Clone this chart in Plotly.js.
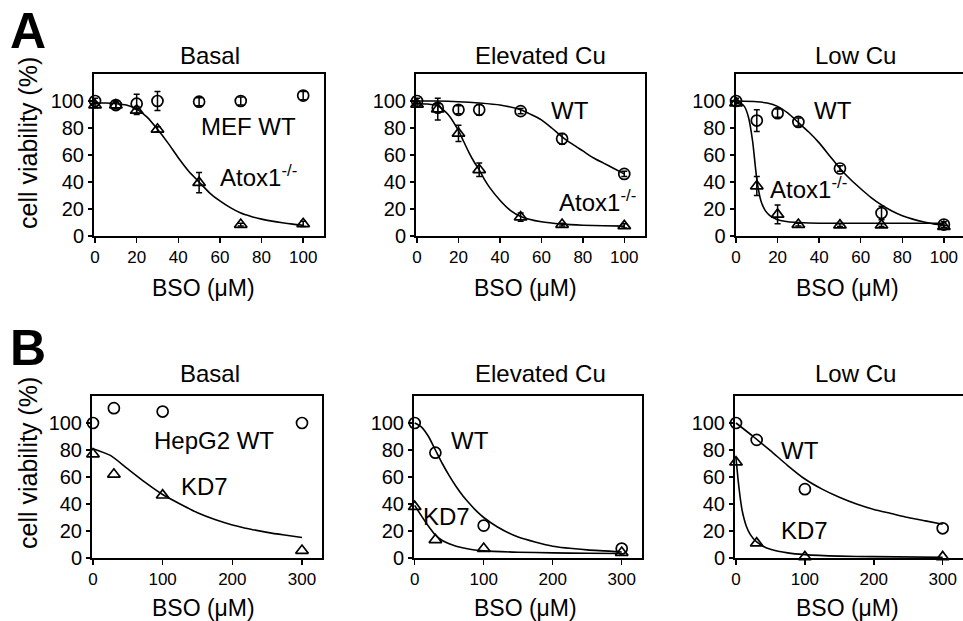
<!DOCTYPE html>
<html>
<head>
<meta charset="utf-8">
<script src="https://cdn.plot.ly/plotly-3.0.1.min.js"></script>
<style>html,body{margin:0;padding:0;background:#fff;}#chart{width:963px;height:621px;}</style>
</head>
<body>
<div id="chart"></div>
<script>
// ---------- DATA ----------
const doseA = [0, 10, 20, 30, 50, 70, 100];
const doseB = [0, 30, 100, 300];
const ticksA = [0, 20, 40, 60, 80, 100];
const ticksB = [0, 100, 200, 300];
const ticksY = [0, 20, 40, 60, 80, 100];

// Panel A – Basal
const a1WT = [100, 97, 98, 100, 99.5, 100, 104];
const a1WTerr = [2, 3, 7, 7, 3, 3, 3];
const a1KO = [97, 97, 93, 79, 39.5, 8.5, 9];
const a1KOerr = [2, 2, 3, 2, 7.5, 1, 2];
const a1KOfitX = [0, 5, 10, 15, 20, 25, 30, 35, 40, 45, 50, 55, 60, 65, 70, 75, 80, 85, 90, 95, 100];
const a1KOfitY = [98.5, 98.5, 98, 97, 94, 88, 79, 69, 58, 48, 40, 32, 26, 21, 17, 14.5, 12.5, 11, 9.8, 8.8, 8];

// Panel A – Elevated Cu
const a2WT = [100, 95, 93.5, 93.5, 92.5, 72, 46];
const a2WTerr = [2, 3, 3, 4, 2, 4, 2];
const a2KO = [97.5, 94, 76, 49, 14, 8.5, 7.5];
const a2KOerr = [2, 8, 6, 5, 3, 1, 1.5];
const a2WTfitX = [0, 10, 20, 30, 40, 50, 55, 60, 65, 70, 75, 80, 85, 90, 95, 100];
const a2WTfitY = [100, 100, 99.5, 98.5, 97, 93.5, 90, 86, 80, 73.5, 68, 63, 58, 54, 50, 46];
const a2KOfitX = [0, 5, 10, 15, 20, 22.5, 25, 27.5, 30, 32.5, 35, 40, 45, 50, 60, 70, 80, 90, 100];
const a2KOfitY = [98, 97.8, 96.5, 90, 78, 70, 62, 55, 49, 42, 36, 26.5, 19, 14.5, 10.5, 8.8, 8, 7.6, 7.3];

// Panel A – Low Cu
const a3WT = [100, 85.5, 91, 84.5, 50, 17, 8.5];
const a3WTerr = [2, 8, 3, 3, 2, 5, 2];
const a3KO = [98.5, 37, 16, 8.5, 8, 8, 7];
const a3KOerr = [2, 7, 7, 1, 1, 1, 1];
const a3WTfitX = [0, 10, 15, 20, 25, 30, 35, 40, 45, 50, 55, 60, 65, 70, 75, 80, 85, 90, 95, 100];
const a3WTfitY = [100, 99.5, 98.5, 96, 91, 84, 77, 69, 59.5, 50, 42, 35, 28.5, 23, 18.5, 15, 12.5, 10.5, 9, 8.5];
const a3KOfitX = [0, 2, 4, 6, 8, 10, 12, 14, 16, 18, 20, 25, 30, 40, 50, 70, 100];
const a3KOfitY = [99, 98.5, 96, 88, 70, 42, 26, 19, 15.5, 13.5, 12, 10.5, 10, 9.5, 9.5, 9.5, 9.5];

// Panel B – Basal
const b1WT = [100, 111, 108.5, 100];
const b1KO = [77, 62, 46.5, 5.5];
const b1KOfitX = [0, 25, 50, 75, 100, 125, 150, 175, 200, 225, 250, 275, 300];
const b1KOfitY = [81, 76, 66, 56, 47, 40, 33.5, 28.5, 24.5, 21.5, 19, 17, 15.2];

// Panel B – Elevated Cu
const b2WT = [100, 78, 24, 7];
const b2KO = [38, 13.5, 7, 4];
const b2WTfitX = [0, 10, 20, 30, 40, 50, 60, 70, 80, 90, 100, 120, 150, 200, 250, 300];
const b2WTfitY = [100, 97, 90, 80, 70, 61, 53, 46, 40, 34.5, 30, 23, 15.5, 8.7, 6, 4.5];
const b2KOfitX = [0, 10, 20, 30, 40, 50, 60, 80, 100, 150, 200, 250, 300];
const b2KOfitY = [39, 31, 23.5, 17, 13, 10.5, 8.7, 6.5, 5.3, 4.3, 3.8, 3.5, 3.3];

// Panel B – Low Cu
const b3WT = [100, 87.5, 51, 22];
const b3KO = [71, 11, 0.8, 0.8];
const b3WTfitX = [0, 25, 50, 75, 100, 125, 150, 175, 200, 225, 250, 275, 300];
const b3WTfitY = [100, 90, 79.5, 68.5, 58.5, 51, 45, 40, 36, 33, 30, 27.5, 25];
const b3KOfitX = [0, 3, 6, 9, 12, 15, 20, 25, 30, 40, 50, 75, 100, 150, 200, 300];
const b3KOfitY = [74, 58, 45, 35, 28.5, 23.5, 18, 14.5, 12, 8.5, 6.5, 3.8, 2.5, 1.4, 1, 0.5];

const panelTitles = ['Basal', 'Elevated Cu', 'Low Cu'];
const xTitle = 'BSO (μM)';
const yTitle = 'cell viability (%)';

// ---------- LAYOUT HELPERS ----------
const W = 963, H = 621;
const FONT = 'Liberation Sans, Arial, Helvetica, sans-serif';
const px = v => v / W;
const py = v => 1 - v / H;

function line(x, y, ax) {
  return {x: x, y: y, xaxis: 'x' + ax, yaxis: 'y' + ax, mode: 'lines', type: 'scatter',
    line: {color: 'black', width: 1.6, shape: 'spline', smoothing: 0.6}, hoverinfo: 'skip', showlegend: false};
}
function pts(x, y, err, sym, ax) {
  const t = {x: x, y: y, xaxis: 'x' + ax, yaxis: 'y' + ax, mode: 'markers', type: 'scatter',
    cliponaxis: false, showlegend: false,
    marker: {symbol: sym, size: 11, color: 'black', line: {color: 'black', width: 1.7}}};
  if (err) t.error_y = {type: 'data', array: err, visible: true, color: 'black', thickness: 1.5, width: 3};
  return t;
}
const sfx = n => (n === 1 ? '' : String(n));

const data = [
  line(a1KOfitX, a1KOfitY, ''),
  pts(doseA, a1WT, a1WTerr, 'circle-open', ''),
  pts(doseA, a1KO, a1KOerr, 'triangle-up-open', ''),
  line(a2WTfitX, a2WTfitY, '2'), line(a2KOfitX, a2KOfitY, '2'),
  pts(doseA, a2WT, a2WTerr, 'circle-open', '2'),
  pts(doseA, a2KO, a2KOerr, 'triangle-up-open', '2'),
  line(a3WTfitX, a3WTfitY, '3'), line(a3KOfitX, a3KOfitY, '3'),
  pts(doseA, a3WT, a3WTerr, 'circle-open', '3'),
  pts(doseA, a3KO, a3KOerr, 'triangle-up-open', '3'),
  line(b1KOfitX, b1KOfitY, '4'),
  pts(doseB, b1WT, null, 'circle-open', '4'),
  pts(doseB, b1KO, null, 'triangle-up-open', '4'),
  line(b2WTfitX, b2WTfitY, '5'), line(b2KOfitX, b2KOfitY, '5'),
  pts(doseB, b2WT, null, 'circle-open', '5'),
  pts(doseB, b2KO, null, 'triangle-up-open', '5'),
  line(b3WTfitX, b3WTfitY, '6'), line(b3KOfitX, b3KOfitY, '6'),
  pts(doseB, b3WT, null, 'circle-open', '6'),
  pts(doseB, b3KO, null, 'triangle-up-open', '6')
];

// panel boxes in pixels: [left, right, top, bottom, xmin, xmax]
const boxes = [
  [94, 324, 74, 236, -0.5, 110],
  [416, 645, 74, 236, -0.5, 110],
  [735.5, 963, 74, 236, -0.25, 109.2],
  [92, 322, 396, 558, -1.4, 328.7],
  [414, 642, 396, 558, -1.0, 329.4],
  [735, 963, 396, 558, -1.45, 329.5]
];

const layout = {
  width: W, height: H, margin: {l: 0, r: 0, t: 0, b: 0},
  paper_bgcolor: 'white', plot_bgcolor: 'white',
  font: {family: FONT, color: 'black'},
  showlegend: false, annotations: []
};
boxes.forEach((b, i) => {
  const n = i + 1;
  layout['xaxis' + sfx(n)] = {
    domain: [px(b[0]), Math.min(1, px(b[1]))], range: [b[4], b[5]],
    tickvals: i < 3 ? ticksA : ticksB, ticks: 'outside', ticklen: 5, tickwidth: 1.5, tickcolor: 'black',
    showline: true, linewidth: 2, linecolor: 'black', mirror: true, showgrid: false, zeroline: false,
    tickfont: {size: 17, color: 'black', family: FONT}, anchor: 'y' + sfx(n), automargin: false
  };
  layout['yaxis' + sfx(n)] = {
    domain: [py(b[3]), py(b[2])], range: [0, 120],
    tickvals: ticksY, ticks: 'outside', ticklen: 4, tickwidth: 1.5, tickcolor: 'black',
    showline: true, linewidth: 2, linecolor: 'black', mirror: true, showgrid: false, zeroline: false,
    tickfont: {size: 20, color: 'black', family: FONT}, anchor: 'x' + sfx(n), automargin: false
  };
});

function ann(text, x, y, size, extra) {
  layout.annotations.push(Object.assign({
    text: text, x: px(x), y: py(y), xref: 'paper', yref: 'paper', showarrow: false,
    xanchor: 'center', yanchor: 'middle', font: {size: size, color: 'black', family: FONT}
  }, extra || {}));
}

// panel letters
ann('<b>A</b>', 8, 31, 50, {xanchor: 'left'});
ann('<b>B</b>', 8, 348, 50, {xanchor: 'left'});
// subplot titles
const titleX = [210, 540, 855];
titleX.forEach((x, i) => { ann(panelTitles[i], x, 55.5, 24); ann(panelTitles[i], x, 373.5, 24); });
// x-axis titles
const xtX = [203, 525, 847.5];
xtX.forEach(x => { ann(xTitle, x, 288, 23); ann(xTitle, x, 608, 23); });
// y-axis titles
ann(yTitle, 28, 143, 25, {textangle: -90});
ann(yTitle, 28, 463, 25, {textangle: -90});
// series labels
ann('MEF WT', 248.5, 126, 24);
ann('Atox1<sup>-/-</sup>', 258, 176, 24);
ann('WT', 570, 110, 24);
ann('Atox1<sup>-/-</sup>', 597, 201, 24);
ann('WT', 833, 110, 24);
ann('Atox1<sup>-/-</sup>', 808, 188, 24);
ann('HepG2 WT', 214, 440, 24);
ann('KD7', 204, 486, 24);
ann('WT', 470, 440, 24);
ann('KD7', 446, 516, 24);
ann('WT', 800, 450, 24);
ann('KD7', 804, 530, 24);

Plotly.newPlot('chart', data, layout, {displayModeBar: false, staticPlot: true});
</script>
</body>
</html>
